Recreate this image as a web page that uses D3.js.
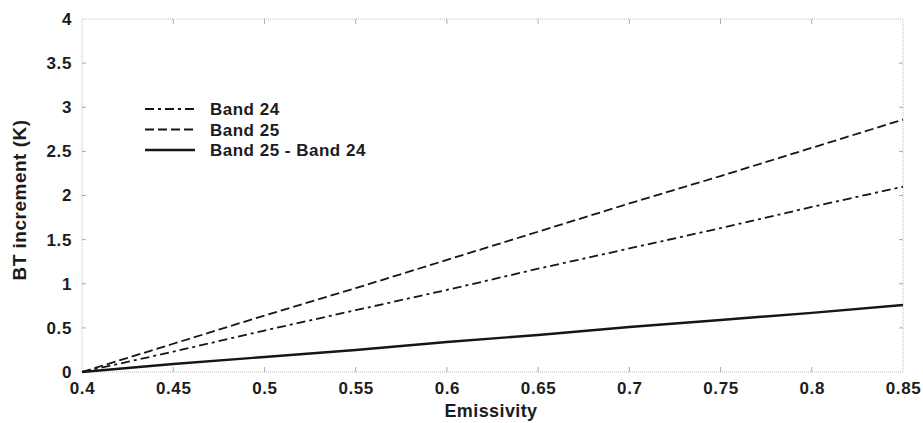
<!DOCTYPE html>
<html>
<head>
<meta charset="utf-8">
<script src="https://cdn.jsdelivr.net/npm/d3@7/dist/d3.min.js"></script>
<style>
  body { margin: 0; background: #fff; }
  svg text { font-family: "Liberation Sans", Arial, sans-serif; font-weight: bold; fill: #1c1c1c; }
</style>
</head>
<body>
<div id="chart"></div>
<script>
// emissivity values (x) and BT increments
const emissivity = [0.4, 0.45, 0.5, 0.55, 0.6, 0.65, 0.7, 0.75, 0.8, 0.85];
const band24 = [0, 0.23, 0.47, 0.70, 0.93, 1.17, 1.40, 1.63, 1.87, 2.10];
const band25 = [0, 0.32, 0.64, 0.95, 1.27, 1.59, 1.91, 2.22, 2.54, 2.86];
const bandDiff = [0, 0.09, 0.17, 0.25, 0.34, 0.42, 0.51, 0.59, 0.67, 0.76];

const xTicks = [0.4, 0.45, 0.5, 0.55, 0.6, 0.65, 0.7, 0.75, 0.8, 0.85];
const yTicks = [0, 0.5, 1, 1.5, 2, 2.5, 3, 3.5, 4];
const seriesNames = ["Band 24", "Band 25", "Band 25 - Band 24"];

const width = 923, height = 423;
const mLeft = 82, mRight = 903, mTop = 19, mBottom = 372;

const x = d3.scaleLinear().domain([0.4, 0.85]).range([mLeft, mRight]);
const y = d3.scaleLinear().domain([0, 4]).range([mBottom, mTop]);

const svg = d3.select("#chart").append("svg")
  .attr("width", width).attr("height", height);

// frame (faint dotted box)
svg.append("rect")
  .attr("x", mLeft).attr("y", mTop)
  .attr("width", mRight - mLeft).attr("height", mBottom - mTop)
  .attr("fill", "none").attr("stroke", "#bdbdbd")
  .attr("stroke-width", 1).attr("stroke-dasharray", "1,1");

// x axis ticks (bottom and top, inward)
const xAxis = d3.axisBottom(x).tickValues(xTicks).tickSize(0).tickPadding(10)
  .tickFormat(d3.format("~g"));
svg.append("g").attr("transform", `translate(0,${mBottom})`).call(xAxis)
  .call(g => g.select(".domain").remove())
  .call(g => g.selectAll("text").attr("font-size", 17).attr("font-family", null)
    .attr("letter-spacing", "0.6px"));

svg.append("g").selectAll("line").data(xTicks.slice(1, -1)).enter().append("line")
  .attr("x1", d => x(d)).attr("x2", d => x(d))
  .attr("y1", mBottom).attr("y2", mBottom - 5)
  .attr("stroke", "#aaa");
svg.append("g").selectAll("line").data(xTicks.slice(1, -1)).enter().append("line")
  .attr("x1", d => x(d)).attr("x2", d => x(d))
  .attr("y1", mTop).attr("y2", mTop + 5)
  .attr("stroke", "#aaa");

// y axis
const yAxis = d3.axisLeft(y).tickValues(yTicks).tickSize(0).tickPadding(10)
  .tickFormat(d3.format("~g"));
svg.append("g").attr("transform", `translate(${mLeft},0)`).call(yAxis)
  .call(g => g.select(".domain").remove())
  .call(g => g.selectAll("text").attr("font-size", 17).attr("font-family", null)
    .attr("letter-spacing", "0.6px"));

svg.append("g").selectAll("line").data(yTicks.slice(1, -1)).enter().append("line")
  .attr("x1", mLeft).attr("x2", mLeft + 4)
  .attr("y1", d => y(d)).attr("y2", d => y(d))
  .attr("stroke", "#aaa");
svg.append("g").selectAll("line").data(yTicks.slice(1, -1)).enter().append("line")
  .attr("x1", mRight).attr("x2", mRight - 4)
  .attr("y1", d => y(d)).attr("y2", d => y(d))
  .attr("stroke", "#aaa");

// axis titles
svg.append("text")
  .attr("x", 491).attr("y", 417)
  .attr("text-anchor", "middle").attr("font-size", 18)
  .attr("letter-spacing", "0.4px")
  .text("Emissivity");

svg.append("text")
  .attr("transform", "translate(26,200) rotate(-90)")
  .attr("text-anchor", "middle").attr("font-size", 19)
  .attr("letter-spacing", "0.5px")
  .text("BT increment (K)");

// lines
const series = [
  { name: seriesNames[0], values: band24, dash: "9,4,3,4", width: 1.8 },
  { name: seriesNames[1], values: band25, dash: "9,4", width: 1.8 },
  { name: seriesNames[2], values: bandDiff, dash: null, width: 2.4 }
];

const line = d3.line()
  .x((d, i) => x(emissivity[i]))
  .y(d => y(d));

svg.append("g").selectAll("path").data(series).enter().append("path")
  .attr("d", d => line(d.values))
  .attr("fill", "none")
  .attr("stroke", "#161616")
  .attr("stroke-width", d => d.width)
  .attr("stroke-dasharray", d => d.dash);

// legend
const legend = svg.append("g");
const rows = legend.selectAll("g").data(series).enter().append("g")
  .attr("transform", (d, i) => `translate(145,${109 + i * 20.5})`);
rows.append("line")
  .attr("x1", 0).attr("x2", 50).attr("y1", 0).attr("y2", 0)
  .attr("stroke", "#161616")
  .attr("stroke-width", d => d.width)
  .attr("stroke-dasharray", d => d.dash);
rows.append("text")
  .attr("x", 65).attr("y", 6)
  .attr("font-size", 17)
  .attr("letter-spacing", "0.5px")
  .text(d => d.name);
</script>
</body>
</html>
